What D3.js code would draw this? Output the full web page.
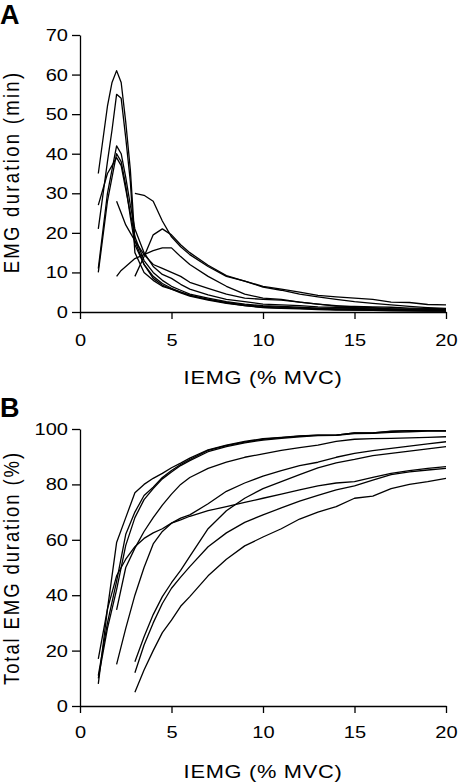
<!DOCTYPE html>
<html><head><meta charset="utf-8">
<script src="https://cdn.jsdelivr.net/npm/d3@7"></script>
<style>
body{margin:0;background:#fff}
svg{display:block}
text{font-family:"Liberation Sans",Arial,sans-serif;fill:#000}
</style>
</head><body>
<svg id="chart" width="460" height="783"></svg>
<script>
// ---------- Data ----------
const xTicks = [0, 5, 10, 15, 20];
const yTicksA = [0, 10, 20, 30, 40, 50, 60, 70];
const yTicksB = [0, 20, 40, 60, 80, 100];

// Panel A: EMG duration (min) vs IEMG (% MVC)
const xGridA = [1,1.5,1.75,2,2.25,2.5,2.75,3,3.5,4,4.5,5,5.5,6,7,8,9,10,11,12,13,14,15,16,17,18,19,20];
const a1 = [35,52,58,61,58,48,36,18,12,9,7.2,6,5,4.2,3.2,2.3,1.6,1.1,0.9,0.8,0.6,0.5,0.5,0.4,0.3,0.3,0.2,0.2];
const a2 = [21,38,46,55,54,44,33,15,10,8,6.5,5.8,4.8,4,3,2.2,1.6,1.2,1,0.9,0.8,0.6,0.5,0.5,0.4,0.3,0.3,0.2];
const a3 = [11,30,36,42,40,34,27,21,15,11.5,9.5,8.5,7,5.8,4.3,3.2,2.6,2,1.8,1.6,1.3,1.2,1.1,1,0.8,0.8,0.7,0.6];
const a4 = [27,35,37,39,37,31,25,19,13,10,8,6.5,5.5,4.5,3.5,2.6,2,1.6,1.4,1.2,1,1,0.9,0.8,0.6,0.5,0.4,0.4];
const a5 = [10,28,34,40,38,32,24,17,12,8.5,6.8,5.8,5,4.2,3.2,2.4,1.8,1.4,1.2,1,0.9,0.8,0.7,0.6,0.5,0.4,0.3,0.3];
const a6 = [null,null,null,28,25,22,20,18,14.5,12,11,10,9,7.5,6,4.5,3.5,3.2,3,2.5,2,1.5,1.4,1.3,1.2,1,0.9,0.8];
const a7 = [null,null,null,9,10.5,11.5,12.5,13.5,14.5,15.5,16.2,16.2,14,12,9,6.5,4.5,3.5,3.2,2.5,2,1.6,1.3,1.1,0.8,0.6,0.5,0.4];
const a8 = [null,null,null,null,null,null,null,30,29.5,28,23,19,16.5,14.5,11.5,9,7.8,6.5,5.8,5,4.2,3.8,3.5,3.2,2.5,2.4,1.9,1.8];
const a9 = [null,null,null,null,null,null,null,9,14,19.5,21,19.5,17,15,11.8,9.2,7.8,6.3,5.5,4.5,3.8,3.2,2.6,2.2,1.8,1.4,1.1,0.9];
const seriesA = [a1, a2, a3, a4, a5, a6, a7, a8, a9];

// Panel B: Total EMG duration (%) vs IEMG (% MVC)
const xGridB = [1,1.5,2,2.5,3,3.5,4,4.5,5,5.5,6,7,8,9,10,11,12,13,14,15,16,17,18,19,20];
const b1 = [8,35,59,68,77,80,82.2,84,86,87.7,89.5,92.5,94.2,95.5,96.5,97,97.5,97.8,97.8,98.6,98.6,99.2,99.4,99.4,99.4];
const b2 = [11,30,45,62,70,76,79,82.5,85,87.2,89,92.3,94,95.3,96.3,96.9,97.4,97.8,97.8,98.6,98.6,99.1,99.4,99.4,99.4];
const b3 = [10,28,42,58,68,74.5,78.5,82,84.5,86.8,88.6,91.8,93.6,95,96,96.6,97.2,97.6,97.7,98.3,98.4,98.8,99,99.2,99.2];
const b4 = [17,35,47,53,57.5,60.5,62.5,64,66,67.2,68.5,70.5,72,73.5,75,76.5,78,79.5,80.5,81,82.5,84,85,85.8,86.4];
const b5 = [null,null,34.7,50,57,63,68,72.5,76.5,80,82.5,85.8,88,89.8,91,92.3,93.3,94.2,95.5,96.3,96.5,96.6,96.8,97,97.2];
const b6 = [null,null,15,28,40,50,58.5,63,66,67.8,69,73,77.5,80.5,83,85,86.8,88,89.8,91.2,92.2,93,93.8,94.6,95.4];
const b7 = [null,null,null,null,16,25,33,39.5,44.5,49,54,64,70.5,75,78.5,81,83.5,86,87.8,89,90.4,91.2,92,92.8,93.6];
const b8 = [null,null,null,null,12,22,30,37,42.5,46.5,50.3,57.5,62.5,66.3,69,71.5,74,76,78,79.5,81.5,83.5,84.5,85.2,85.8];
const b9 = [null,null,null,null,5,13,20,26.5,31,36,39.5,47,53,57.8,61,64,67.5,70,72,75,75.8,78.5,80,81,82.2];
const seriesB = [b1, b2, b3, b4, b5, b6, b7, b8, b9];

// ---------- Drawing ----------
const svg = d3.select("#chart");
const SX = 1.18; // horizontal stretch of lettering seen in the reference

function panel(opt) {
  const x = d3.scaleLinear().domain([0, 20]).range([80, 446]);
  const y = d3.scaleLinear().domain(opt.yDomain).range([opt.bottom, opt.top]);
  const g = svg.append("g");

  const line = d3.line()
    .defined(d => d[1] != null)
    .x(d => x(d[0]))
    .y(d => y(d[1]));

  g.selectAll("path.series")
    .data(opt.series)
    .join("path")
    .attr("class", "series")
    .attr("fill", "none")
    .attr("stroke", "#000")
    .attr("stroke-width", 1.3)
    .attr("stroke-linejoin", "round")
    .attr("d", s => line(opt.xGrid.map((xv, i) => [xv, s[i]])));

  const yAxis = g.append("g")
    .attr("transform", "translate(80,0)")
    .call(d3.axisLeft(y).tickValues(opt.yTicks).tickSize(8).tickPadding(3).tickSizeOuter(0));
  const xAxis = g.append("g")
    .attr("transform", `translate(0,${opt.bottom})`)
    .call(d3.axisBottom(x).tickValues(xTicks).tickSize(7).tickPadding(opt.xPad).tickSizeOuter(0));
  [yAxis, xAxis].forEach(a => {
    a.select(".domain").attr("stroke", "#000").attr("stroke-width", 1.3);
    a.selectAll(".tick line").attr("stroke", "#000").attr("stroke-width", 1.3);
    a.selectAll(".tick text").attr("font-size", 17).attr("font-family", "Liberation Sans, Arial, sans-serif").attr("fill", "#000");
  });
  yAxis.selectAll(".tick text").attr("x", 0).attr("transform", `translate(-12,0) scale(${SX},1)`);
  xAxis.selectAll(".tick text").attr("transform", `scale(${SX},1)`);

  g.append("text")
    .attr("transform", `translate(263,${opt.bottom + 72}) scale(${SX},1)`)
    .attr("text-anchor", "middle")
    .attr("font-size", 18.5)
    .attr("letter-spacing", "0.6px")
    .text("IEMG (% MVC)");

  g.append("text")
    .attr("transform", `translate(19,${opt.yTitleCenter}) scale(${SX},1) rotate(-90)`)
    .attr("text-anchor", "middle")
    .attr("font-size", 18.5)
    .attr("letter-spacing", opt.yTitleSpacing)
    .text(opt.yTitle);

  g.append("text")
    .attr("x", 0).attr("y", opt.labelY)
    .attr("font-size", 27).attr("font-weight", "bold")
    .text(opt.label);
}

panel({
  label: "A", labelY: 24,
  top: 35, bottom: 312, yDomain: [0, 70], yTicks: yTicksA,
  xGrid: xGridA, series: seriesA, xPad: 15,
  yTitle: "EMG duration (min)", yTitleCenter: 172, yTitleSpacing: "2.3px"
});
panel({
  label: "B", labelY: 417,
  top: 429, bottom: 706, yDomain: [0, 100], yTicks: yTicksB,
  xGrid: xGridB, series: seriesB, xPad: 13,
  yTitle: "Total EMG duration (%)", yTitleCenter: 568, yTitleSpacing: "1.9px"
});
</script>
</body></html>
